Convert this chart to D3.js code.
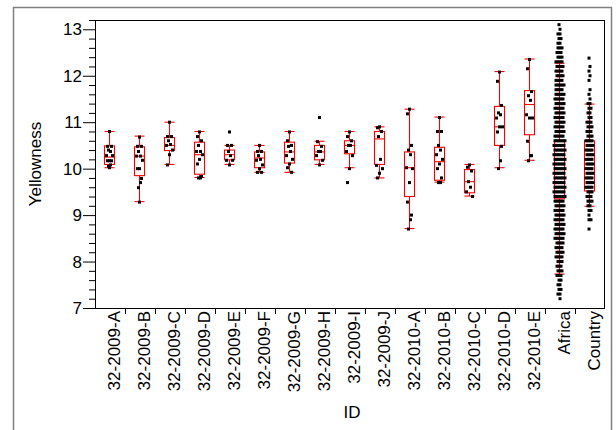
<!DOCTYPE html>
<html><head><meta charset="utf-8">
<script src="https://cdn.jsdelivr.net/npm/d3@7"></script>
<style>
body{margin:0;background:#fff}
text{font-family:"Liberation Sans", Arial, sans-serif;}
</style>
</head><body>
<svg id="c" width="616" height="430"></svg>
<script>
// ---------- data ----------
const ids = ["32-2009-A","32-2009-B","32-2009-C","32-2009-D","32-2009-E","32-2009-F","32-2009-G","32-2009-H","32-2009-I","32-2009-J","32-2010-A","32-2010-B","32-2010-C","32-2010-D","32-2010-E","Africa","Country"];
const whiskerLo = [10.02, 9.29,10.09, 9.81,10.09, 9.92, 9.92,10.09,10.02, 9.80, 8.71, 9.71, 9.41,10.02,10.18, 7.73, 9.19];
const q1        = [10.09, 9.85,10.39, 9.88,10.19,10.02,10.12,10.19,10.32,10.09, 9.40, 9.75, 9.48,10.50,10.73, 9.35, 9.52];
const median    = [10.25,10.27,10.50,10.30,10.30,10.23,10.36,10.36,10.50,10.64,10.02,10.15, 9.72,10.90,11.38,10.00,10.10];
const q3        = [10.49,10.47,10.67,10.57,10.40,10.36,10.57,10.50,10.60,10.80,10.36,10.46, 9.98,11.34,11.68,10.60,10.60];
const whiskerHi = [10.80,10.70,11.00,10.80,10.50,10.50,10.80,10.59,10.80,10.90,11.28,11.11,10.09,12.09,12.36,12.27,11.39];

const groupPoints = [
  [10.80,10.48,10.48,10.40,10.37,10.28,10.28,10.17,10.17,10.17,10.08,10.05,10.02],
  [10.68,10.48,10.48,10.37,10.27,10.27,10.18,10.00,10.00,9.79,9.70,9.59,9.28],
  [11.00,10.69,10.69,10.60,10.52,10.50,10.40,10.30,10.08],
  [10.79,10.69,10.60,10.50,10.37,10.37,10.30,10.20,10.10,9.83,9.80,9.80],
  [10.79,10.50,10.50,10.37,10.28,10.18,10.18,10.08],
  [10.50,10.37,10.37,10.28,10.20,10.18,10.08,10.00,9.92,9.92],
  [10.79,10.60,10.50,10.48,10.37,10.28,10.20,10.10,10.02,9.92],
  [11.10,10.58,10.48,10.37,10.37,10.28,10.18,10.08],
  [10.79,10.69,10.60,10.50,10.50,10.37,10.28,10.00,9.70],
  [10.90,10.88,10.80,10.69,10.20,10.07,10.00,9.90,9.80],
  [11.28,11.18,10.50,10.40,10.30,10.02,10.00,9.70,9.28,9.00,8.90,8.70],
  [11.10,10.80,10.80,10.50,10.40,10.30,10.20,10.10,10.00,9.80,9.70,9.70],
  [10.08,10.03,9.95,9.72,9.60,9.50,9.40],
  [12.08,11.88,11.36,11.20,11.16,11.09,10.90,10.90,10.79,10.48,10.17,10.00],
  [12.35,12.15,11.66,11.57,11.47,11.16,11.09,11.09,10.59,10.28,10.28,10.17]
];

// large groups: value level and how many points sit at that level
const africaValues = [13.1,13.0,12.9,12.8,12.7,12.6,12.5,12.4,12.3,12.2,12.1,12.0,11.9,11.8,11.7,11.6,11.5,11.4,11.3,11.2,11.1,11.0,10.9,10.8,10.7,10.6,10.5,10.4,10.3,10.2,10.1,10.0,9.9,9.8,9.7,9.6,9.5,9.4,9.3,9.2,9.1,9.0,8.9,8.8,8.7,8.6,8.5,8.4,8.3,8.2,8.1,8.0,7.9,7.8,7.7,7.6,7.5,7.4,7.3,7.2];
const africaCounts = [1,1,2,2,2,3,3,3,4,4,4,4,4,5,4,5,5,5,5,5,5,5,5,5,5,6,6,6,6,6,6,6,6,6,6,6,6,6,5,5,5,5,5,5,5,5,5,4,4,4,4,3,3,3,3,2,2,2,2,1];
const countryValues = [12.38,12.2,12.1,12.0,11.9,11.7,11.6,11.5,11.4,11.3,11.2,11.1,11.0,10.9,10.8,10.7,10.6,10.5,10.4,10.3,10.2,10.1,10.0,9.9,9.8,9.7,9.6,9.5,9.4,9.3,9.2,9.1,9.0,8.9,8.7];
const countryCounts = [1,1,1,1,1,1,1,1,2,2,2,2,3,3,3,3,4,4,4,4,4,4,4,4,4,4,4,3,3,3,2,2,1,2,1];

const yTickValues = [7,8,9,10,11,12,13];
const yLabel = "Yellowness";
const xLabel = "ID";

// ---------- drawing ----------
const svg = d3.select("#c");
const pLeft = 95, pRight = 605, pTop = 20, pBottom = 308;
const x = d3.scaleBand().domain(ids).range([pLeft, pRight]).padding(0);
const y = d3.scaleLinear().domain([7, 13.2]).range([pBottom, pTop]);
const bw = x.bandwidth();
const FONT = '"Liberation Sans", Arial, sans-serif';

// outer frame
svg.append("rect").attr("x", 13.5).attr("y", 7.5).attr("width", 598).attr("height", 440)
  .attr("fill", "none").attr("stroke", "#808080").attr("stroke-width", 1.5);

// y axis major ticks + labels
const yAxis = svg.append("g").attr("transform", `translate(${pLeft},0)`)
  .call(d3.axisLeft(y).tickValues(yTickValues).tickSize(12).tickPadding(1).tickFormat(d3.format("d")));
yAxis.select(".domain").remove();
yAxis.selectAll("text").attr("font-size", 17).attr("font-family", FONT).attr("fill", "#000");
yAxis.selectAll("line").attr("stroke", "#000");
// minor ticks
const minor = d3.range(7.2, 13.21, 0.2).filter(v => Math.abs(v - Math.round(v)) > 0.01);
const yMinor = svg.append("g").attr("transform", `translate(${pLeft},0)`)
  .call(d3.axisLeft(y).tickValues(minor).tickSize(6).tickFormat(""));
yMinor.select(".domain").remove();
yMinor.selectAll("line").attr("stroke", "#000");

// x boundary ticks
svg.append("g").selectAll("line").data(ids.slice(1)).join("line")
  .attr("x1", d => Math.round(x(d)) + 0.5).attr("x2", d => Math.round(x(d)) + 0.5)
  .attr("y1", pBottom).attr("y2", pBottom + 6).attr("stroke", "#000");

// x labels
const xAxis = svg.append("g").attr("transform", `translate(0,${pBottom + 3})`)
  .call(d3.axisBottom(x).tickSize(0).tickPadding(0));
xAxis.select(".domain").remove();
xAxis.selectAll("text")
  .attr("font-size", 17).attr("font-family", FONT).attr("fill", "#000")
  .attr("text-anchor", "end").attr("transform", "rotate(-90)")
  .attr("x", 0).attr("y", 0).attr("dy", 9.5);

// axis titles
svg.append("text").attr("transform", `translate(41,${(pTop + pBottom) / 2}) rotate(-90)`)
  .attr("text-anchor", "middle").attr("font-size", 17).attr("font-family", FONT).text(yLabel);
svg.append("text").attr("x", (pLeft + pRight) / 2 + 2).attr("y", 418)
  .attr("text-anchor", "middle").attr("font-size", 17).attr("font-family", FONT).text(xLabel);

// boxes
const boxG = svg.append("g").attr("stroke", "#ff0000").attr("stroke-width", 1.1).attr("fill", "none");
ids.forEach((id, i) => {
  const cx = x(id) + bw / 2 - 0.5;
  const hw = 5;
  boxG.append("line").attr("x1", cx).attr("x2", cx).attr("y1", y(whiskerHi[i])).attr("y2", y(q3[i]));
  boxG.append("line").attr("x1", cx).attr("x2", cx).attr("y1", y(q1[i])).attr("y2", y(whiskerLo[i]));
  boxG.append("line").attr("x1", cx - hw).attr("x2", cx + hw).attr("y1", y(whiskerHi[i])).attr("y2", y(whiskerHi[i]));
  boxG.append("line").attr("x1", cx - hw).attr("x2", cx + hw).attr("y1", y(whiskerLo[i])).attr("y2", y(whiskerLo[i]));
  boxG.append("rect").attr("x", cx - hw).attr("y", y(q3[i])).attr("width", 2 * hw).attr("height", y(q1[i]) - y(q3[i]));
  boxG.append("line").attr("x1", cx - hw).attr("x2", cx + hw).attr("y1", y(median[i])).attr("y2", y(median[i]));
});

// points
const jit = [0, -2, 2, -1, 1, -3, 3, 0, -2, 2, 1, -1, 0, 3, -3];
const pts = [];
groupPoints.forEach((arr, gi) => {
  const cx = x(ids[gi]) + bw / 2 - 0.5;
  arr.forEach((v, k) => pts.push({ px: cx + jit[k % jit.length], v }));
});
function levelPoints(id, vals, counts) {
  const cx = x(id) + bw / 2 - 0.5;
  vals.forEach((v, r) => {
    const n = counts[r];
    const shift = (r % 2 ? 0.5 : -0.5);
    for (let k = 0; k < n; k++) pts.push({ px: cx + (k - (n - 1) / 2) * 2.0 + shift, v });
  });
}
levelPoints("Africa", africaValues, africaCounts);
levelPoints("Country", countryValues, countryCounts);

svg.append("g").selectAll("rect").data(pts).join("rect")
  .attr("x", d => d.px - 1.5).attr("y", d => y(d.v) - 1.5)
  .attr("width", 3).attr("height", 3).attr("fill", "#000");

// plot frame
svg.append("rect").attr("x", pLeft + 0.5).attr("y", pTop + 0.5).attr("width", pRight - pLeft - 1).attr("height", pBottom - pTop)
  .attr("fill", "none").attr("stroke", "#000").attr("stroke-width", 1);
</script>
</body></html>
